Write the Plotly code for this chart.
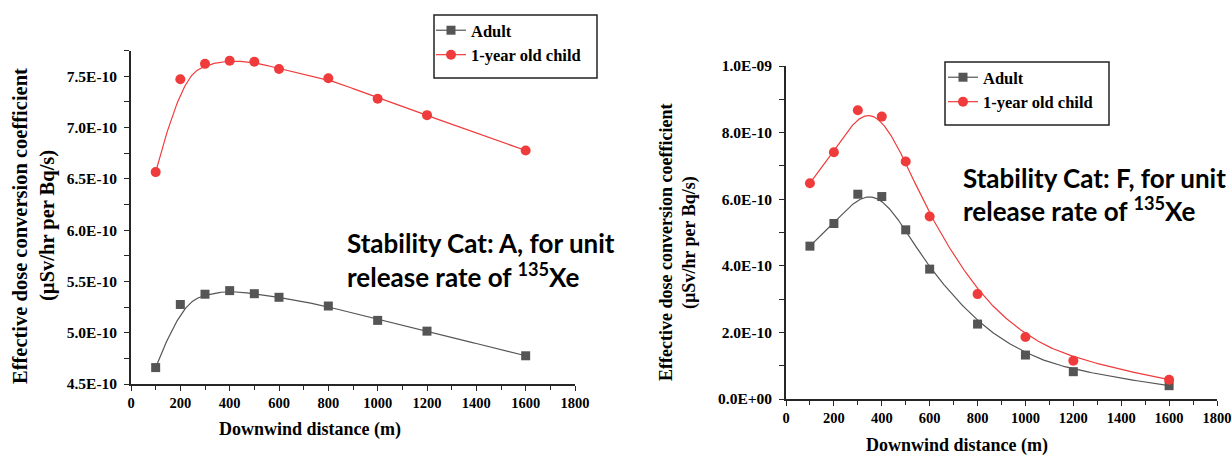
import numpy as np
import plotly.graph_objects as go

# ---------------- data ----------------
distance = [100, 200, 300, 400, 500, 600, 800, 1000, 1200, 1600]

adult_A = [4.66e-10, 5.275e-10, 5.375e-10, 5.41e-10, 5.38e-10, 5.345e-10, 5.26e-10, 5.12e-10, 5.015e-10, 4.775e-10]
child_A = [6.565e-10, 7.47e-10, 7.62e-10, 7.65e-10, 7.64e-10, 7.57e-10, 7.48e-10, 7.28e-10, 7.12e-10, 6.775e-10]

adult_F = [4.59e-10, 5.27e-10, 6.15e-10, 6.08e-10, 5.08e-10, 3.90e-10, 2.25e-10, 1.32e-10, 0.82e-10, 0.40e-10]
child_F = [6.48e-10, 7.41e-10, 8.67e-10, 8.48e-10, 7.13e-10, 5.48e-10, 3.15e-10, 1.86e-10, 1.15e-10, 0.58e-10]

x_tickvals = [0, 200, 400, 600, 800, 1000, 1200, 1400, 1600, 1800]
x_ticktext = ["0", "200", "400", "600", "800", "1000", "1200", "1400", "1600", "1800"]

yA_tickvals = [4.5e-10, 5.0e-10, 5.5e-10, 6.0e-10, 6.5e-10, 7.0e-10, 7.5e-10]
yA_ticktext = ["4.5E-10", "5.0E-10", "5.5E-10", "6.0E-10", "6.5E-10", "7.0E-10", "7.5E-10"]

yF_tickvals = [0.0, 2.0e-10, 4.0e-10, 6.0e-10, 8.0e-10, 1.0e-9]
yF_ticktext = ["0.0E+00", "2.0E-10", "4.0E-10", "6.0E-10", "8.0E-10", "1.0E-09"]

series_names = ["Adult", "1-year old child"]
x_title = "Downwind distance (m)"
y_title_1 = "Effective dose conversion coefficient"
y_title_2 = "(µSv/hr per Bq/s)"
note_A = ["Stability Cat: A, for unit", "release rate of <sup>135</sup>Xe"]
note_F = ["Stability Cat: F, for unit", "release rate of <sup>135</sup>Xe"]

# ---------------- styles ----------------
W, H = 1232, 457
ADULT_C = "#555555"
CHILD_C = "#ef3b3b"
AXIS_C = "#262626"
SERIF = "Liberation Serif, Times New Roman, serif"
SANS = "Lato, Calibri, sans-serif"


def bspline(xs, ys, k=3, n=400):
    """Clamped uniform B-spline using the data points as control points (Origin 'B-Spline' connect)."""
    P = np.column_stack([np.asarray(xs, float), np.asarray(ys, float)])
    m = len(P)
    knots = np.concatenate([[0] * k, np.arange(m - k + 1), [m - k] * k]).astype(float)
    ts = np.linspace(0, m - k, n)
    out = []
    for t in ts:
        i = int(np.searchsorted(knots, t, side="right") - 1)
        i = min(max(i, k), m - 1)
        d = [P[j + i - k].copy() for j in range(k + 1)]
        for r in range(1, k + 1):
            for j in range(k, r - 1, -1):
                denom = knots[j + 1 + i - r] - knots[j + i - k]
                a = 0.0 if denom == 0 else (t - knots[j + i - k]) / denom
                d[j] = (1 - a) * d[j - 1] + a * d[j]
        out.append(d[k])
    out = np.array(out)
    return out[:, 0], out[:, 1]


fig = go.Figure()


def add_series(xs, ys, color, symbol, msize, xa, ya, legend, name):
    cx, cy = bspline(xs, ys)
    fig.add_trace(go.Scatter(x=cx, y=cy, mode="lines", line=dict(color=color, width=1.2),
                             xaxis=xa, yaxis=ya, showlegend=False, hoverinfo="skip"))
    fig.add_trace(go.Scatter(x=xs, y=ys, mode="markers", marker=dict(color=color, symbol=symbol, size=msize),
                             xaxis=xa, yaxis=ya, showlegend=False, name=name))
    # legend sample (line + marker)
    fig.add_trace(go.Scatter(x=[None], y=[None], mode="lines+markers", name=name,
                             line=dict(color=color, width=1.2),
                             marker=dict(color=color, symbol=symbol, size=msize),
                             xaxis=xa, yaxis=ya, legend=legend))


add_series(distance, adult_A, ADULT_C, "square", 9, "x", "y", "legend", series_names[0])
add_series(distance, child_A, CHILD_C, "circle", 10, "x", "y", "legend", series_names[1])
add_series(distance, adult_F, ADULT_C, "square", 9, "x2", "y2", "legend2", series_names[0])
add_series(distance, child_F, CHILD_C, "circle", 10, "x2", "y2", "legend2", series_names[1])


def px_x(p):
    return p / W


def px_y(p):
    return 1 - p / H


common_axis = dict(showline=True, linecolor=AXIS_C, linewidth=1.7, showgrid=False, zeroline=False,
                   ticks="outside", ticklen=5, tickwidth=1.4, tickcolor=AXIS_C, automargin=False,
                   tickfont=dict(family=SERIF, size=14.5, color="black", weight="bold"))

xaxis_common = dict(common_axis, range=[0, 1800], tickmode="array", tickvals=x_tickvals, ticktext=x_ticktext,
                    minor=dict(tickmode="linear", tick0=0, dtick=100, ticks="outside", ticklen=4,
                               tickwidth=1.2, tickcolor=AXIS_C))

yfont = dict(family=SERIF, size=15.5, color="black", weight="bold")

fig.update_layout(
    width=W, height=H,
    margin=dict(l=0, r=0, t=0, b=0),
    paper_bgcolor="white", plot_bgcolor="white",
    showlegend=True,
    xaxis=dict(xaxis_common, domain=[px_x(131), px_x(575)], anchor="y"),
    yaxis=dict(common_axis, domain=[px_y(384), px_y(50.5)], anchor="x",
               range=[4.5e-10, 7.75e-10], tickmode="array", tickvals=yA_tickvals, ticktext=yA_ticktext,
               tickfont=yfont, ticklabelstandoff=4,
               minor=dict(tickmode="linear", tick0=4.5e-10, dtick=0.25e-10, ticks="outside", ticklen=5,
                          tickwidth=1.2, tickcolor=AXIS_C)),
    xaxis2=dict(xaxis_common, domain=[px_x(786), px_x(1217)], anchor="y2"),
    yaxis2=dict(common_axis, domain=[px_y(399), px_y(66)], anchor="x2",
                range=[0, 1.0e-9], tickmode="array", tickvals=yF_tickvals, ticktext=yF_ticktext,
                tickfont=yfont, ticklabelstandoff=4,
                minor=dict(tickmode="linear", tick0=0, dtick=1.0e-10, ticks="outside", ticklen=5,
                           tickwidth=1.2, tickcolor=AXIS_C)),
    legend=dict(x=px_x(431), y=px_y(13), xanchor="left", yanchor="top",
                bgcolor="rgba(0,0,0,0)", borderwidth=0,
                font=dict(family=SERIF, size=16.5, color="black", weight="bold"), tracegroupgap=0),
    legend2=dict(x=px_x(943), y=px_y(60), xanchor="left", yanchor="top",
                 bgcolor="rgba(0,0,0,0)", borderwidth=0,
                 font=dict(family=SERIF, size=16.5, color="black", weight="bold"), tracegroupgap=0),
)

# legend frames
fig.add_shape(type="rect", xref="paper", yref="paper", x0=px_x(434), x1=px_x(597), y0=px_y(78), y1=px_y(15),
              line=dict(color="#222", width=1.5))
fig.add_shape(type="rect", xref="paper", yref="paper", x0=px_x(945), x1=px_x(1109), y0=px_y(125), y1=px_y(62),
              line=dict(color="#222", width=1.5))

# axis titles
ann = []
ann.append(dict(text=x_title, x=px_x(310), y=px_y(429), font=dict(family=SERIF, size=18, weight="bold")))
ann.append(dict(text=x_title, x=px_x(957), y=px_y(445), font=dict(family=SERIF, size=18, weight="bold")))
ann.append(dict(text=y_title_1, x=px_x(20), y=px_y(226), textangle=-90, font=dict(family=SERIF, size=20.5, weight="bold")))
ann.append(dict(text=y_title_2, x=px_x(47), y=px_y(226), textangle=-90, font=dict(family=SERIF, size=20.5, weight="bold")))
ann.append(dict(text=y_title_1, x=px_x(666), y=px_y(243), textangle=-90, font=dict(family=SERIF, size=18, weight="bold")))
ann.append(dict(text=y_title_2, x=px_x(690), y=px_y(243), textangle=-90, font=dict(family=SERIF, size=18, weight="bold")))

# stability notes
for (lines, x0, y0) in [(note_A, 345, 243), (note_F, 961, 178)]:
    for i, t in enumerate(lines):
        ann.append(dict(text=t, x=px_x(x0), y=px_y(y0 + 32 * i), xanchor="left",
                        font=dict(family=SANS, size=26, weight="bold")))

for a in ann:
    a.setdefault("xanchor", "center")
    a.update(xref="paper", yref="paper", yanchor="middle", showarrow=False)
    a["font"].setdefault("color", "black")
    fig.add_annotation(**a)

fig.write_html("out.html", config={"displayModeBar": False},
               post_script="document.body.style.margin='0';document.body.style.overflow='hidden';")
